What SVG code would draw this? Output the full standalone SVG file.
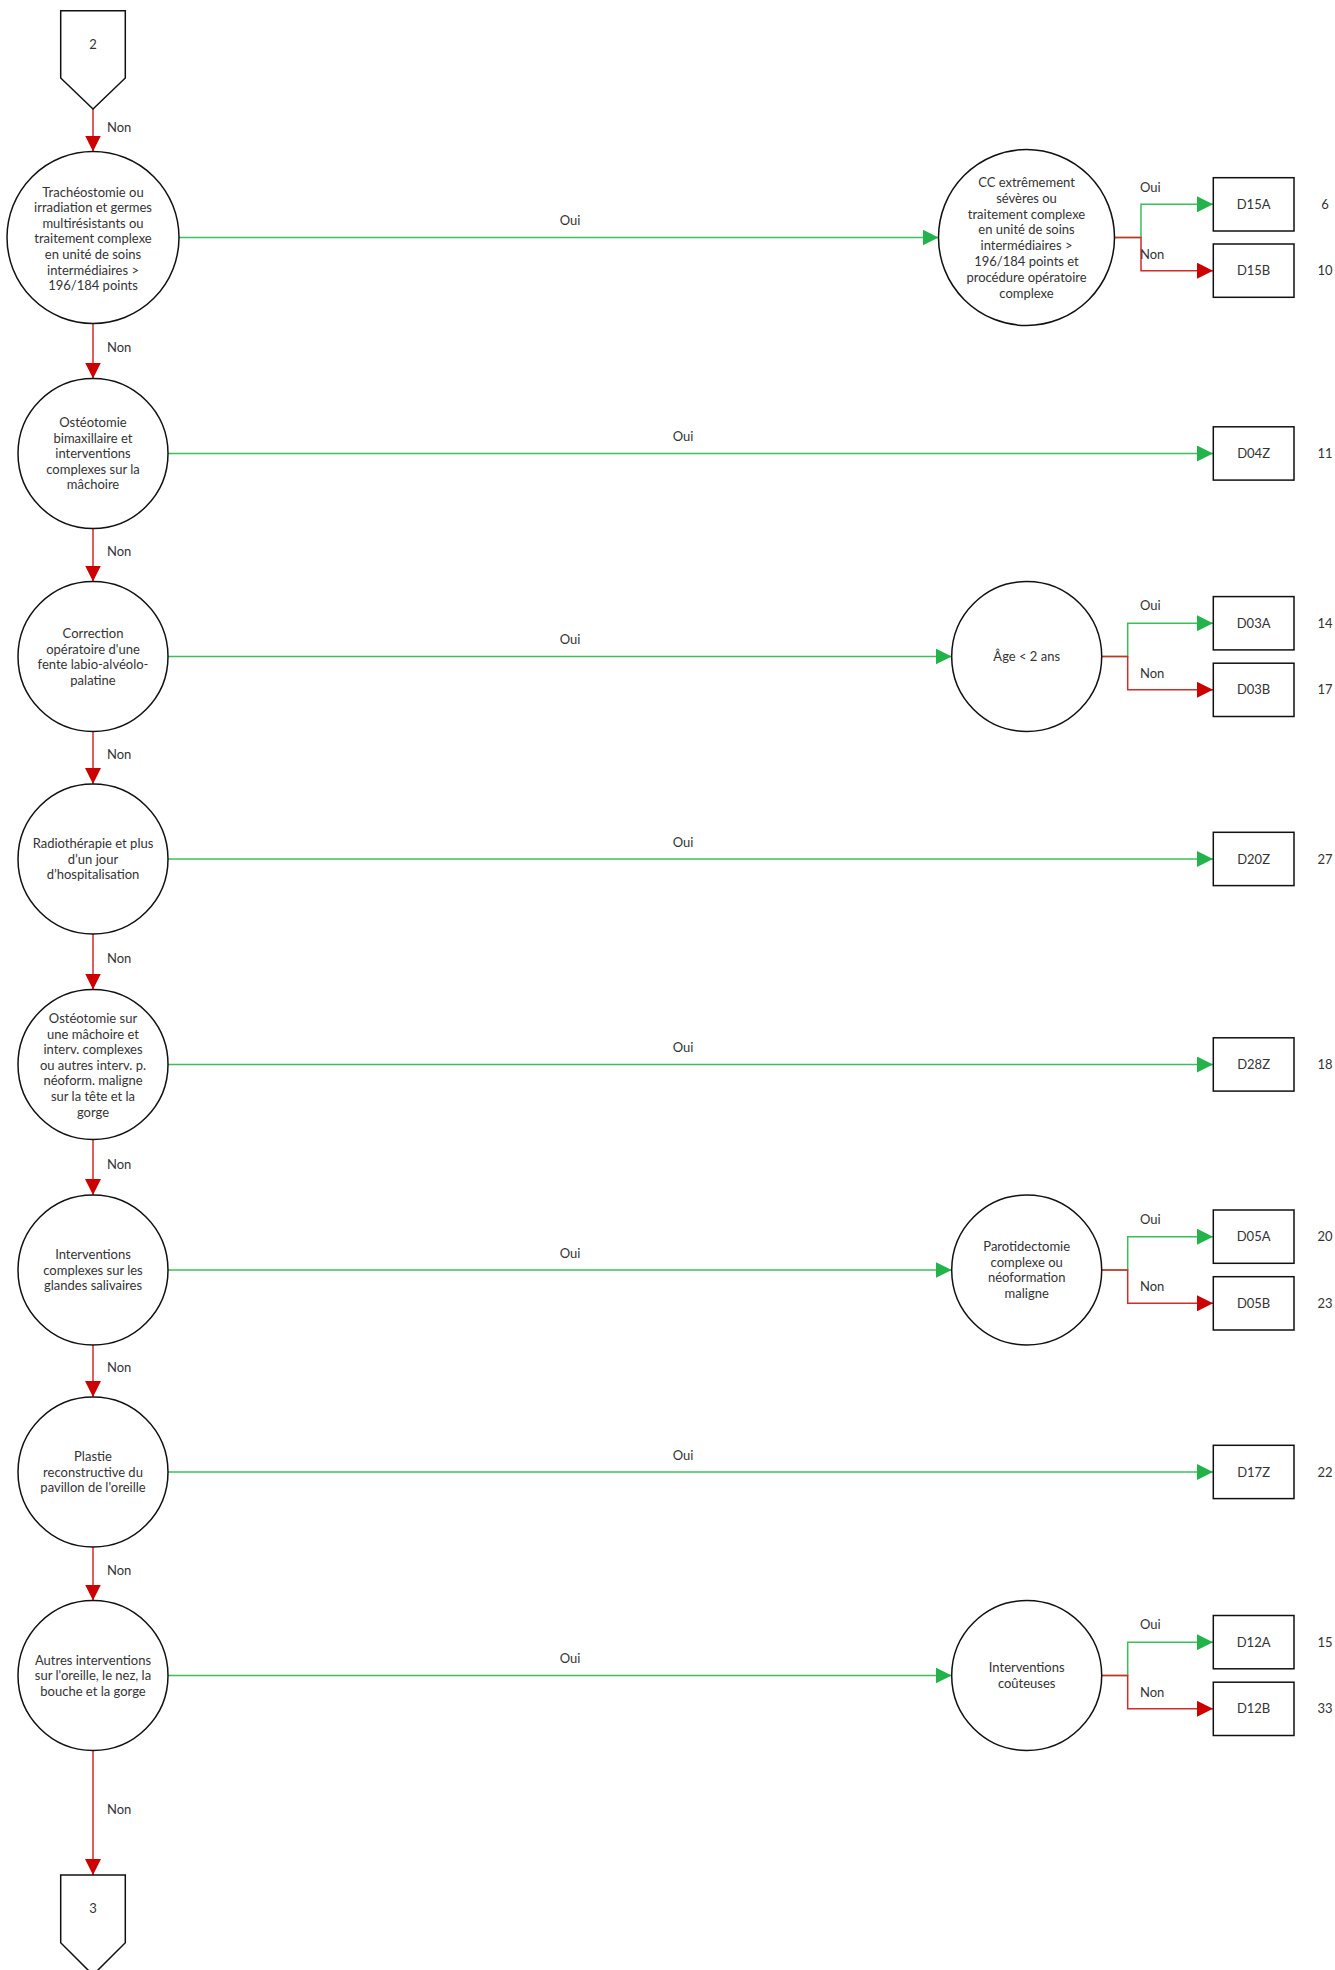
<svg xmlns="http://www.w3.org/2000/svg" width="1335" height="1970" viewBox="0 0 1335 1970">
<style>
text{font-family:Lato,"Liberation Sans",sans-serif;font-size:13px;fill:#333}
.c{text-anchor:middle}
.node{fill:#fff;stroke:#111;stroke-width:1.5}
.g{fill:none;stroke:#3cbf5a;stroke-width:1.5}
.r{fill:none;stroke:#d42a2a;stroke-width:1.5}
</style>
<defs>
<marker id="ag" markerUnits="userSpaceOnUse" markerWidth="16" markerHeight="16" refX="16" refY="8" orient="auto" viewBox="0 0 16 16"><path d="M0,0 L16,8 L0,16 z" fill="#22b44a"/></marker>
<marker id="ar" markerUnits="userSpaceOnUse" markerWidth="16" markerHeight="16" refX="16" refY="8" orient="auto" viewBox="0 0 16 16"><path d="M0,0 L16,8 L0,16 z" fill="#cc0000"/></marker>
</defs>
<rect width="1335" height="1970" fill="#fff"/>

<g id="connectors">
<path class="r" d="M93,109 V151.5" marker-end="url(#ar)"/>
<path class="r" d="M93,323.5 V378.5" marker-end="url(#ar)"/>
<path class="r" d="M93,528.5 V581.5" marker-end="url(#ar)"/>
<path class="r" d="M93,731.5 V784" marker-end="url(#ar)"/>
<path class="r" d="M93,934 V989.5" marker-end="url(#ar)"/>
<path class="r" d="M93,1139.5 V1195" marker-end="url(#ar)"/>
<path class="r" d="M93,1345 V1397" marker-end="url(#ar)"/>
<path class="r" d="M93,1547 V1600.5" marker-end="url(#ar)"/>
<path class="r" d="M93,1750.5 V1875" marker-end="url(#ar)"/>
<text x="107" y="131.5">Non</text>
<text x="107" y="352">Non</text>
<text x="107" y="556">Non</text>
<text x="107" y="759">Non</text>
<text x="107" y="963">Non</text>
<text x="107" y="1168.5">Non</text>
<text x="107" y="1372">Non</text>
<text x="107" y="1575">Non</text>
<text x="107" y="1814">Non</text>

<path class="g" d="M179,237.5 H938.5" marker-end="url(#ag)"/>
<path class="g" d="M168,453.5 H1213" marker-end="url(#ag)"/>
<path class="g" d="M168,656.5 H951.7" marker-end="url(#ag)"/>
<path class="g" d="M168,859 H1213" marker-end="url(#ag)"/>
<path class="g" d="M168,1064.5 H1213" marker-end="url(#ag)"/>
<path class="g" d="M168,1270 H951.7" marker-end="url(#ag)"/>
<path class="g" d="M168,1472 H1213" marker-end="url(#ag)"/>
<path class="g" d="M168,1675.5 H951.7" marker-end="url(#ag)"/>
<text class="c" x="570" y="225">Oui</text>
<text class="c" x="683" y="441">Oui</text>
<text class="c" x="570" y="644">Oui</text>
<text class="c" x="683" y="846.5">Oui</text>
<text class="c" x="683" y="1052">Oui</text>
<text class="c" x="570" y="1257.5">Oui</text>
<text class="c" x="683" y="1459.5">Oui</text>
<text class="c" x="570" y="1663">Oui</text>

<path class="g" d="M1114.5,237.5 H1141 V204.3 H1213" marker-end="url(#ag)"/>
<path class="r" d="M1114.5,237.5 H1141 V270.7 H1213" marker-end="url(#ar)"/>
<text x="1140" y="191.5">Oui</text>
<text x="1140" y="258.5">Non</text>

<path class="g" d="M1101.7,656.5 H1127.7 V623.2 H1213" marker-end="url(#ag)"/>
<path class="r" d="M1101.7,656.5 H1127.7 V689.8 H1213" marker-end="url(#ar)"/>
<text x="1140" y="610">Oui</text>
<text x="1140" y="677.5">Non</text>

<path class="g" d="M1101.7,1270 H1127.7 V1236.7 H1213" marker-end="url(#ag)"/>
<path class="r" d="M1101.7,1270 H1127.7 V1303.3 H1213" marker-end="url(#ar)"/>
<text x="1140" y="1223.5">Oui</text>
<text x="1140" y="1291">Non</text>

<path class="g" d="M1101.7,1675.5 H1127.7 V1642.2 H1213" marker-end="url(#ag)"/>
<path class="r" d="M1101.7,1675.5 H1127.7 V1708.8 H1213" marker-end="url(#ar)"/>
<text x="1140" y="1629">Oui</text>
<text x="1140" y="1696.5">Non</text>
</g>

<g id="start2"><polygon class="node" points="60.7,10.7 125.3,10.7 125.3,78 93,109 60.7,78"/><text class="c" x="93" y="48.5">2</text></g>
<g id="end3"><polygon class="node" points="60.7,1875 125.3,1875 125.3,1942.7 93,1975 60.7,1942.7"/><text class="c" x="93" y="1912.5">3</text></g>

<g id="q1"><circle class="node" cx="93" cy="237.5" r="86"/>
<text class="c" x="93" y="196.5">Trachéostomie ou<tspan x="93" dy="15.6">irradiation et germes</tspan><tspan x="93" dy="15.6">multirésistants ou</tspan><tspan x="93" dy="15.6">traitement complexe</tspan><tspan x="93" dy="15.6">en unité de soins</tspan><tspan x="93" dy="15.6">intermédiaires &gt;</tspan><tspan x="93" dy="15.6">196/184 points</tspan></text></g>

<g id="q2"><circle class="node" cx="93" cy="453.5" r="75"/>
<text class="c" x="93" y="427">Ostéotomie<tspan x="93" dy="15.6">bimaxillaire et</tspan><tspan x="93" dy="15.6">interventions</tspan><tspan x="93" dy="15.6">complexes sur la</tspan><tspan x="93" dy="15.6">mâchoire</tspan></text></g>

<g id="q3"><circle class="node" cx="93" cy="656.5" r="75"/>
<text class="c" x="93" y="638">Correction<tspan x="93" dy="15.6">opératoire d'une</tspan><tspan x="93" dy="15.6">fente labio-alvéolo-</tspan><tspan x="93" dy="15.6">palatine</tspan></text></g>

<g id="q4"><circle class="node" cx="93" cy="859" r="75"/>
<text class="c" x="93" y="848">Radiothérapie et plus<tspan x="93" dy="15.6">d’un jour</tspan><tspan x="93" dy="15.6">d’hospitalisation</tspan></text></g>

<g id="q5"><circle class="node" cx="93" cy="1064.5" r="75"/>
<text class="c" x="93" y="1023">Ostéotomie sur<tspan x="93" dy="15.6">une mâchoire et</tspan><tspan x="93" dy="15.6">interv. complexes</tspan><tspan x="93" dy="15.6">ou autres interv. p.</tspan><tspan x="93" dy="15.6">néoform. maligne</tspan><tspan x="93" dy="15.6">sur la tête et la</tspan><tspan x="93" dy="15.6">gorge</tspan></text></g>

<g id="q6"><circle class="node" cx="93" cy="1270" r="75"/>
<text class="c" x="93" y="1259">Interventions<tspan x="93" dy="15.6">complexes sur les</tspan><tspan x="93" dy="15.6">glandes salivaires</tspan></text></g>

<g id="q7"><circle class="node" cx="93" cy="1472" r="75"/>
<text class="c" x="93" y="1461">Plastie<tspan x="93" dy="15.6">reconstructive du</tspan><tspan x="93" dy="15.6">pavillon de l'oreille</tspan></text></g>

<g id="q8"><circle class="node" cx="93" cy="1675.5" r="75"/>
<text class="c" x="93" y="1664.5">Autres interventions<tspan x="93" dy="15.6">sur l'oreille, le nez, la</tspan><tspan x="93" dy="15.6">bouche et la gorge</tspan></text></g>

<g id="s1"><circle class="node" cx="1026.5" cy="237.5" r="88"/>
<text class="c" x="1026.5" y="187">CC extrêmement<tspan x="1026.5" dy="15.8">sévères ou</tspan><tspan x="1026.5" dy="15.8">traitement complexe</tspan><tspan x="1026.5" dy="15.8">en unité de soins</tspan><tspan x="1026.5" dy="15.8">intermédiaires &gt;</tspan><tspan x="1026.5" dy="15.8">196/184 points et</tspan><tspan x="1026.5" dy="15.8">procédure opératoire</tspan><tspan x="1026.5" dy="15.8">complexe</tspan></text></g>

<g id="s3"><circle class="node" cx="1026.7" cy="656.5" r="75"/><text class="c" x="1026.7" y="661">Âge &lt; 2 ans</text></g>

<g id="s6"><circle class="node" cx="1026.7" cy="1270" r="75"/>
<text class="c" x="1026.7" y="1251">Parotidectomie<tspan x="1026.7" dy="15.6">complexe ou</tspan><tspan x="1026.7" dy="15.6">néoformation</tspan><tspan x="1026.7" dy="15.6">maligne</tspan></text></g>

<g id="s8"><circle class="node" cx="1026.7" cy="1675.5" r="75"/>
<text class="c" x="1026.7" y="1672">Interventions<tspan x="1026.7" dy="15.6">coûteuses</tspan></text></g>

<g id="D15A"><rect class="node" x="1213.3" y="177.7" width="80.7" height="53.3"/><text class="c" x="1253.6" y="208.8">D15A</text><text class="c" x="1325" y="208.8">6</text></g>
<g id="D15B"><rect class="node" x="1213.3" y="244" width="80.7" height="53.3"/><text class="c" x="1253.6" y="275.2">D15B</text><text class="c" x="1325" y="275.2">10</text></g>
<g id="D04Z"><rect class="node" x="1213.3" y="426.8" width="80.7" height="53.3"/><text class="c" x="1253.6" y="458">D04Z</text><text class="c" x="1325" y="458">11</text></g>
<g id="D03A"><rect class="node" x="1213.3" y="596.6" width="80.7" height="53.3"/><text class="c" x="1253.6" y="627.7">D03A</text><text class="c" x="1325" y="627.7">14</text></g>
<g id="D03B"><rect class="node" x="1213.3" y="663.2" width="80.7" height="53.3"/><text class="c" x="1253.6" y="694.3">D03B</text><text class="c" x="1325" y="694.3">17</text></g>
<g id="D20Z"><rect class="node" x="1213.3" y="832.3" width="80.7" height="53.3"/><text class="c" x="1253.6" y="863.5">D20Z</text><text class="c" x="1325" y="863.5">27</text></g>
<g id="D28Z"><rect class="node" x="1213.3" y="1037.8" width="80.7" height="53.3"/><text class="c" x="1253.6" y="1069">D28Z</text><text class="c" x="1325" y="1069">18</text></g>
<g id="D05A"><rect class="node" x="1213.3" y="1210" width="80.7" height="53.3"/><text class="c" x="1253.6" y="1241.2">D05A</text><text class="c" x="1325" y="1241.2">20</text></g>
<g id="D05B"><rect class="node" x="1213.3" y="1276.7" width="80.7" height="53.3"/><text class="c" x="1253.6" y="1307.8">D05B</text><text class="c" x="1325" y="1307.8">23</text></g>
<g id="D17Z"><rect class="node" x="1213.3" y="1445.3" width="80.7" height="53.3"/><text class="c" x="1253.6" y="1476.5">D17Z</text><text class="c" x="1325" y="1476.5">22</text></g>
<g id="D12A"><rect class="node" x="1213.3" y="1615.5" width="80.7" height="53.3"/><text class="c" x="1253.6" y="1646.7">D12A</text><text class="c" x="1325" y="1646.7">15</text></g>
<g id="D12B"><rect class="node" x="1213.3" y="1682.2" width="80.7" height="53.3"/><text class="c" x="1253.6" y="1713.3">D12B</text><text class="c" x="1325" y="1713.3">33</text></g>
</svg>
